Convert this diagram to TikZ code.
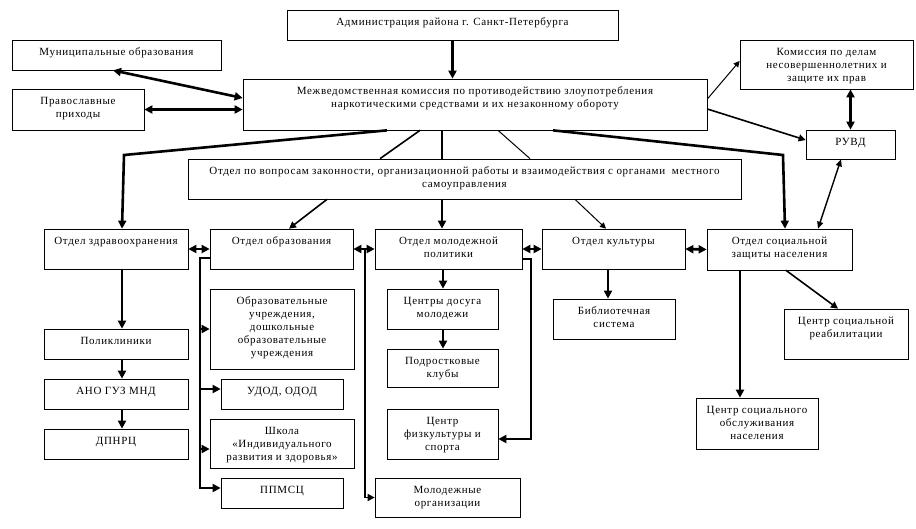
\documentclass[tikz,border=0pt]{standalone}
\usepackage{fontspec}
\setmainfont{Liberation Serif}[LetterSpace=6]
\usetikzlibrary{arrows.meta,fit}

\tikzset{
    blok/.style={draw, line width=0.7pt, inner sep=0pt},
    nadp/.style={anchor=north, align=center, inner sep=0pt, yshift=-8pt,
        font=\fontsize{11}{13}\selectfont},
    liniya/.style={line width=2.6pt},
    strelka/.style={line width=2.6pt, -{Triangle[length=8pt,width=8pt]}},
    sredn/.style={line width=1.6pt, -{Triangle[length=7pt,width=7pt]}},
    tonk/.style={line width=1pt, -{Triangle[length=6pt,width=6pt]}},
    dvoin/.style={line width=2.6pt, {Triangle[length=8pt,width=8pt]}-{Triangle[length=8pt,width=8pt]}},
    dvoint/.style={line width=1.4pt, {Triangle[length=7pt,width=6pt]}-{Triangle[length=7pt,width=6pt]}}
}

\begin{document}
\begin{tikzpicture}[x=1pt, y=-1pt]
        \useasboundingbox (0,0) rectangle (916,528);

        % verhnij uroven
        \node[blok, fit={(287,10) (618,40)}, label={[nadp]north:Администрация района г. Санкт-Петербурга}] (admin) {};
        \node[blok, fit={(12,40) (221,70)}, label={[nadp]north:Муниципальные образования}] (munic) {};
        \node[blok, fit={(12,89) (144,130)}, label={[nadp]north:Православные\\приходы}] (prav) {};
        \node[blok, fit={(243,79) (707,130)}, label={[nadp]north:Межведомственная комиссия по противодействию злоупотребления\\наркотическими средствами и их незаконному обороту}] (komis) {};
        \node[blok, fit={(740,40) (913,89)}, label={[nadp]north:Комиссия по делам\\несовершеннолетних и\\защите их прав}] (kdn) {};
        \node[blok, fit={(806,130) (895,159)}, label={[nadp]north:РУВД}] (ruvd) {};
        \node[blok, fit={(188,159) (741,199)}, label={[nadp]north:{Отдел по вопросам законности, организационной работы и взаимодействия с органами \ местного\\самоуправления}}] (otdel) {};

        % otdely
        \node[blok, fit={(44,229) (188,269)}, label={[nadp]north:Отдел здравоохранения}] (zdrav) {};
        \node[blok, fit={(210,229) (353,269)}, label={[nadp]north:Отдел образования}] (obraz) {};
        \node[blok, fit={(375,229) (522,269)}, label={[nadp]north:Отдел молодежной\\политики}] (molod) {};
        \node[blok, fit={(542,229) (685,269)}, label={[nadp]north:Отдел культуры}] (kult) {};
        \node[blok, fit={(707,229) (852,270)}, label={[nadp]north:Отдел социальной\\защиты населения}] (sots) {};

        % uchrezhdenija
        \node[blok, fit={(44,329) (188,359)}, label={[nadp]north:Поликлиники}] (polikl) {};
        \node[blok, fit={(44,379) (188,409)}, label={[nadp]north:АНО ГУЗ МНД}] (ano) {};
        \node[blok, fit={(44,429) (188,459)}, label={[nadp]north:ДПНРЦ}] (dpnrc) {};
        \node[blok, fit={(210,289) (354,369)}, label={[nadp]north:Образовательные\\учреждения,\\дошкольные\\образовательные\\учреждения}] (obruch) {};
        \node[blok, fit={(221,379) (343,409)}, label={[nadp]north:{УДОД, ОДОД}}] (udod) {};
        \node[blok, fit={(210,419) (354,468)}, label={[nadp]north:Школа\\«Индивидуального\\развития и здоровья»}] (shkola) {};
        \node[blok, fit={(221,478) (343,508)}, label={[nadp]north:ППМСЦ}] (ppmsc) {};
        \node[blok, fit={(387,289) (498,329)}, label={[nadp]north:Центры досуга\\молодежи}] (dosug) {};
        \node[blok, fit={(387,349) (498,387)}, label={[nadp]north:Подростковые\\клубы}] (podr) {};
        \node[blok, fit={(387,409) (498,459)}, label={[nadp]north:Центр\\физкультуры и\\спорта}] (fizk) {};
        \node[blok, fit={(375,478) (520,517)}, label={[nadp]north:Молодежные\\организации}] (molorg) {};
        \node[blok, fit={(553,299) (675,339)}, label={[nadp]north:Библиотечная\\система}] (bibl) {};
        \node[blok, fit={(784,309) (908,359)}, label={[nadp]north:Центр социальной\\реабилитации}] (reab) {};
        \node[blok, fit={(696,398) (818,449)}, label={[nadp]north:Центр социального\\обслуживания\\населения}] (obsl) {};

        % svjazi verhnego urovnja
        \draw[strelka] (admin.south) -- (admin.south |- komis.north);
        \draw[dvoin] (munic.south -| 113,0) -- (komis.west |- 0,98);
        \draw[dvoin] (prav.east) -- (prav.east -| komis.west);
        \draw[tonk] (komis.east |- 0,99) -- (kdn.west |- 0,61);
        \draw[sredn] (komis.east |- 0,109) -- (ruvd.west |- 0,140);
        \draw[dvoin] (ruvd.north) -- (ruvd.north |- kdn.south);

        % ot komissii vniz
        \coordinate (izg1) at (124,155);
        \coordinate (izg2) at (783,155);
        \draw[strelka] (komis.south -| 387,0) -- (izg1) -- (zdrav.north -| 122,0);
        \draw[line width=1.6pt] (komis.south -| 420,0) -- (otdel.north -| 380,0);
        \draw[liniya] (komis.south -| 442,0) -- (otdel.north -| 442,0);
        \draw[line width=1pt] (komis.south -| 498,0) -- (otdel.north -| 530,0);
        \draw[strelka] (komis.south -| 553,0) -- (izg2) -- (sots.north -| 785,0);

        % ot otdela po voprosam
        \draw[sredn] (otdel.south -| 327,0) -- (obraz.north -| 289,0);
        \draw[strelka] (otdel.south -| 442,0) -- (molod.north -| 442,0);
        \draw[tonk] (otdel.south -| 575,0) -- (kult.north -| 606,0);
        \draw[dvoint] (ruvd.south -| 841,0) -- (sots.north -| 818,0);

        % mezhdu otdelami
        \draw[dvoin] (zdrav.east) -- (obraz.west);
        \draw[dvoin] (obraz.east) -- (molod.west);
        \draw[dvoin] (molod.east) -- (kult.west);
        \draw[dvoin] (kult.east) -- (sots.west);

        % zdravoohranenie
        \draw[strelka] (zdrav.south -| 122,0) -- (polikl.north -| 122,0);
        \draw[strelka] (polikl.south -| 122,0) -- (ano.north -| 122,0);
        \draw[strelka] (ano.south -| 122,0) -- (dpnrc.north -| 122,0);

        % obrazovanie
        \coordinate (obrx) at (200,258);
        \draw[strelka] (obraz.west |- obrx) -- (obrx) |- (ppmsc.west |- 0,488);
        \draw[strelka] (obrx |- obruch.west) -- (obruch.west);
        \draw[strelka] (obrx |- 0,389) -- (udod.west |- 0,389);
        \draw[strelka] (obrx |- 0,449) -- (shkola.west |- 0,449);

        % molodezh
        \draw[strelka] (molod.south -| 443,0) -- (dosug.north -| 443,0);
        \draw[strelka] (dosug.south -| 443,0) -- (podr.north -| 443,0);
        \coordinate (molx) at (531,259);
        \draw[strelka] (molod.east |- molx) -- (molx) |- (fizk.east |- 0,439);
        \draw[sredn] (obraz.east -| 365,0) |- (molorg.west);

        % kultura i socialnaja zashchita
        \draw[strelka] (kult.south -| 608,0) -- (bibl.north -| 608,0);
        \draw[strelka] (sots.south -| 740,0) -- (obsl.north -| 740,0);
        \draw[sredn] (sots.south -| 786,0) -- (reab.north -| 838,0);
\end{tikzpicture}
\end{document}
